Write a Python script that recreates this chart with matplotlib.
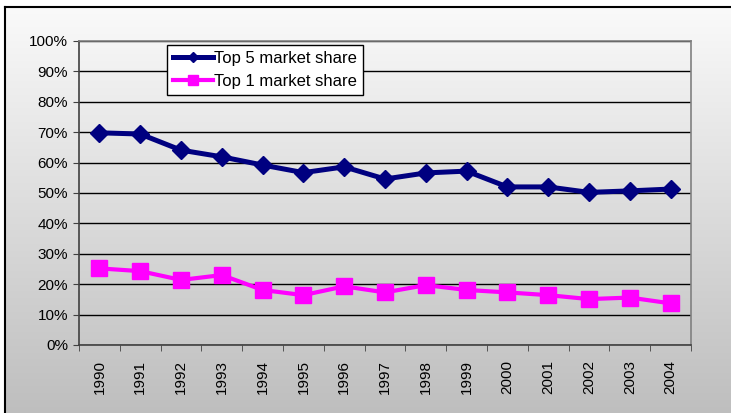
import numpy as np
import matplotlib
matplotlib.use("Agg")
import matplotlib.pyplot as plt
from matplotlib.ticker import PercentFormatter, FixedLocator

plt.rcParams['font.family'] = ['Liberation Sans', 'DejaVu Sans']

years = ["1990", "1991", "1992", "1993", "1994", "1995", "1996", "1997",
         "1998", "1999", "2000", "2001", "2002", "2003", "2004"]
top5 = [69.8, 69.4, 64.1, 61.9, 59.2, 56.7, 58.6, 54.6,
        56.6, 57.2, 52.0, 52.0, 50.2, 50.7, 51.3]
top1 = [25.2, 24.3, 21.4, 23.0, 18.1, 16.4, 19.3, 17.3,
        19.7, 18.1, 17.3, 16.4, 15.1, 15.6, 13.7]

W, H = 731, 413
fig = plt.figure(figsize=(W / 100, H / 100), dpi=100)

# background with grey gradient and black frame (cropped at right/bottom)
bg = fig.add_axes([5 / W, -0.02, 1.0, (H - 7) / H + 0.02], zorder=0)
grad = np.linspace(0, 1, 256).reshape(-1, 1)
cmap = matplotlib.colors.LinearSegmentedColormap.from_list("g", ["#bdbdbd", "#fafafa"])
bg.imshow(grad, aspect="auto", cmap=cmap, origin="lower", extent=[0, 1, 0, 1])
bg.set_xticks([])
bg.set_yticks([])
for s in ["right", "bottom"]:
    bg.spines[s].set_visible(False)
for s in ["left", "top"]:
    bg.spines[s].set_color("black")
    bg.spines[s].set_linewidth(1.5)

ax = fig.add_axes([79 / W, (H - 345) / H, (691 - 79) / W, (345 - 41) / H], zorder=1)
ax.set_facecolor("none")

x = np.arange(len(years))
ax.plot(x, np.array(top5) / 100, color="#000080", lw=3.6, marker="D", ms=9,
        label="Top 5 market share", zorder=3)
ax.plot(x, np.array(top1) / 100, color="#ff00ff", lw=3.0, marker="s", ms=11,
        label="Top 1 market share", zorder=3)

ax.set_xlim(-0.5, len(years) - 0.5)
ax.set_ylim(0, 1)
ax.set_yticks(np.arange(0, 1.01, 0.1))
ax.yaxis.set_major_formatter(PercentFormatter(1.0, decimals=0))
ax.yaxis.grid(True, color="black", lw=1.0)
ax.set_axisbelow(True)

ax.set_xticks(x)
ax.set_xticklabels(years, rotation=90, fontsize=11)
ax.xaxis.set_minor_locator(FixedLocator(np.arange(-0.5, len(years), 1.0)))
ax.tick_params(axis="x", which="major", length=0, pad=11)
ax.tick_params(axis="x", which="minor", length=4, direction="out", color="#404040")
ax.tick_params(axis="y", length=4, direction="out", color="#404040", labelsize=11, pad=4)

for s in ["top", "right"]:
    ax.spines[s].set_color("#808080")
    ax.spines[s].set_linewidth(1.2)
for s in ["left", "bottom"]:
    ax.spines[s].set_color("#404040")
    ax.spines[s].set_linewidth(1.2)

leg = ax.legend(loc="upper left", bbox_to_anchor=(167 / W, 1 - 45 / H),
                bbox_transform=fig.transFigure, borderaxespad=0, fontsize=12,
                frameon=True, fancybox=False, edgecolor="black", facecolor="white",
                framealpha=1, markerscale=0.6, handlelength=2.4, handletextpad=0.1,
                labelspacing=0.5, borderpad=0.35)
leg.get_frame().set_linewidth(1.0)

fig.savefig("out.png", dpi=100)
